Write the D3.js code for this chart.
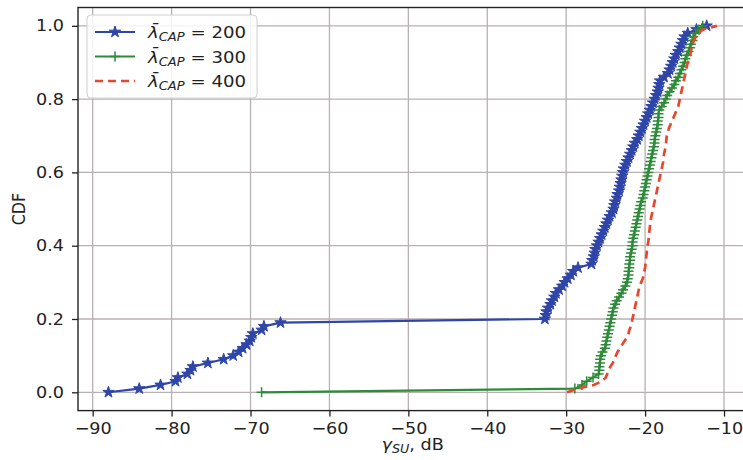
<!DOCTYPE html>
<html>
<head>
<meta charset="utf-8">
<script src="https://cdn.jsdelivr.net/npm/d3@7"></script>
<style>
  html, body { margin: 0; padding: 0; background: #fff; }
  svg { display: block; }
  text { font-family: "DejaVu Sans", sans-serif; fill: #222; }
</style>
</head>
<body>
<svg id="chart" width="743" height="460"></svg>
<script>
// Sorted samples of gamma_SU (dB) for each lambda_CAP setting; the CDF is their empirical distribution.
const samples200 = [
  -88.0, -84.1, -81.4, -79.5, -79.2, -78.0, -77.6, -77.3, -75.4, -73.4,
  -72.2, -71.5, -71.0, -70.5, -70.1, -69.9, -69.7, -68.6, -68.3, -66.2,
  -32.7, -32.6, -32.5, -32.3, -32.0, -31.8, -31.5, -31.3, -30.9, -30.5,
  -30.2, -29.8, -29.4, -29.1, -28.5, -26.8, -26.7, -26.5, -26.4, -26.3,
  -26.1, -25.9, -25.7, -25.5, -25.3, -25.1, -24.9, -24.7, -24.5, -24.2,
  -24.0, -23.9, -23.8, -23.6, -23.5, -23.3, -23.2, -23.1, -23.0, -22.9,
  -22.8, -22.7, -22.5, -22.3, -22.1, -21.9, -21.7, -21.5, -21.3, -21.0,
  -20.8, -20.6, -20.4, -20.2, -20.0, -19.8, -19.6, -19.4, -19.2, -19.0,
  -18.8, -18.6, -18.4, -18.3, -18.2, -18.1, -17.6, -17.1, -16.9, -16.7,
  -16.5, -16.3, -16.1, -15.8, -15.6, -15.4, -15.2, -15.0, -14.6, -13.5,
  -12.2
];
const samples300 = [
  -68.6, -28.9, -28.0, -27.4, -26.6, -25.9, -25.8, -25.8, -25.7, -25.7,
  -25.6, -25.4, -25.1, -25.0, -24.9, -24.8, -24.7, -24.6, -24.5, -24.4,
  -24.3, -24.2, -24.1, -24.0, -23.8, -23.6, -23.3, -23.0, -22.8, -22.5,
  -22.3, -22.2, -22.1, -22.1, -22.0, -22.0, -21.9, -21.9, -21.8, -21.7,
  -21.6, -21.6, -21.5, -21.4, -21.3, -21.2, -21.1, -21.0, -20.9, -20.8,
  -20.7, -20.6, -20.5, -20.3, -20.2, -20.1, -20.0, -19.9, -19.8, -19.7,
  -19.6, -19.5, -19.4, -19.3, -19.2, -19.1, -19.0, -18.9, -18.8, -18.8,
  -18.7, -18.6, -18.5, -18.4, -18.4, -18.3, -18.3, -18.2, -17.9, -17.6,
  -17.4, -17.2, -16.9, -16.6, -16.3, -16.1, -15.8, -15.6, -15.4, -15.2,
  -15.0, -14.9, -14.7, -14.5, -14.3, -14.2, -14.0, -13.9, -13.6, -13.2,
  -12.7
];
const samples400 = [
  -29.9, -28.5, -26.5, -25.5, -25.0, -24.8, -24.6, -24.4, -24.1, -23.9,
  -23.7, -23.5, -23.2, -22.9, -22.6, -22.3, -22.1, -22.0, -21.8, -21.7,
  -21.6, -21.5, -21.4, -21.3, -21.2, -21.1, -21.0, -20.9, -20.8, -20.7,
  -20.5, -20.3, -20.2, -20.1, -20.0, -19.95, -19.9, -19.85, -19.8, -19.75,
  -19.7, -19.6, -19.55, -19.5, -19.45, -19.4, -19.35, -19.3, -19.2, -19.1,
  -19.0, -18.9, -18.8, -18.7, -18.6, -18.5, -18.4, -18.3, -18.2, -18.1,
  -18.0, -17.9, -17.8, -17.7, -17.65, -17.6, -17.5, -17.4, -17.35, -17.3,
  -17.25, -17.1, -17.0, -16.8, -16.6, -16.4, -16.2, -16.0, -15.8, -15.7,
  -15.6, -15.5, -15.4, -15.3, -15.2, -15.1, -15.0, -14.9, -14.8, -14.7,
  -14.6, -14.5, -14.3, -14.2, -14.1, -14.0, -13.8, -13.6, -13.2, -12.7,
  -10.9
];

const seriesLabels = ["200", "300", "400"];
const xTickValues = [-90, -80, -70, -60, -50, -40, -30, -20, -10];
const yTickValues = [0.0, 0.2, 0.4, 0.6, 0.8, 1.0];

// Empirical CDF: k-th sorted sample sits at k/(n-1)
function ecdf(xs) {
  const s = xs.slice().sort((a, b) => a - b);
  return s.map((v, k) => ({ x: v, y: k / (s.length - 1) }));
}

const series = [
  { label: seriesLabels[0], pts: ecdf(samples200), color: "#2f45a8", marker: "star", dash: null, width: 2.2 },
  { label: seriesLabels[1], pts: ecdf(samples300), color: "#2e8b3a", marker: "plus", dash: null, width: 2.2 },
  { label: seriesLabels[2], pts: ecdf(samples400), color: "#e8472e", marker: null, dash: "8,5", width: 2.7 }
];

const svg = d3.select("#chart");
const x = d3.scaleLinear().domain([-91.86, -7.05]).range([78.0, 747.3]);
const y = d3.scaleLinear().domain([-0.05, 1.05]).range([410.6, 7.5]);

const [x0, x1] = x.range();
const [yb, yt] = y.range();
const FS = 16;
const STRETCH = 1.1;

// grid
const grid = svg.append("g");
grid.selectAll("line.gx").data(xTickValues).join("line")
  .attr("x1", d => x(d)).attr("x2", d => x(d))
  .attr("y1", yt).attr("y2", yb)
  .attr("stroke", "#b9b1b1").attr("stroke-width", 1.3);
grid.selectAll("line.gy").data(yTickValues).join("line")
  .attr("x1", x0).attr("x2", x1)
  .attr("y1", d => y(d)).attr("y2", d => y(d))
  .attr("stroke", "#b9b1b1").attr("stroke-width", 1.3);

// curves
const line = d3.line().x(d => x(d.x)).y(d => y(d.y));
const starPath = d3.symbol().type(d3.symbolStar).size(40)();
const plusPath = "M-5,0H5M0,-5V5";

series.forEach(s => {
  const g = svg.append("g");
  g.append("path").datum(s.pts)
    .attr("d", line)
    .attr("fill", "none")
    .attr("stroke", s.color)
    .attr("stroke-width", s.width)
    .attr("stroke-dasharray", s.dash)
    .attr("stroke-linejoin", "round");
  if (s.marker === "star") {
    g.selectAll("path.m").data(s.pts).join("path")
      .attr("class", "m")
      .attr("d", starPath)
      .attr("transform", d => `translate(${x(d.x)},${y(d.y)})`)
      .attr("fill", s.color).attr("stroke", s.color).attr("stroke-width", 1);
  } else if (s.marker === "plus") {
    g.selectAll("path.m").data(s.pts).join("path")
      .attr("class", "m")
      .attr("d", plusPath)
      .attr("transform", d => `translate(${x(d.x)},${y(d.y)})`)
      .attr("fill", "none").attr("stroke", s.color).attr("stroke-width", 1.5);
  }
});

// axes
const fmtX = d3.format("d");
const fmtY = d3.format(".1f");
const xAxis = svg.append("g").attr("transform", `translate(0,${yb})`)
  .call(d3.axisBottom(x).tickValues(xTickValues).tickFormat(fmtX).tickSize(6).tickPadding(6));
const yAxis = svg.append("g").attr("transform", `translate(${x0},0)`)
  .call(d3.axisLeft(y).tickValues(yTickValues).tickFormat(fmtY).tickSize(6).tickPadding(8));
[xAxis, yAxis].forEach(a => {
  a.select(".domain").remove();
  a.selectAll(".tick line").attr("stroke", "#222").attr("stroke-width", 1.3);
  a.selectAll(".tick text").attr("font-size", FS).attr("fill", "#222")
    .attr("font-family", "DejaVu Sans, sans-serif");
});
xAxis.selectAll(".tick text").attr("transform", `scale(${STRETCH},1)`);
yAxis.selectAll(".tick text")
  .attr("x", -14 / STRETCH)
  .attr("transform", `scale(${STRETCH},1)`);

// frame
svg.append("rect")
  .attr("x", x0).attr("y", yt)
  .attr("width", x1 - x0).attr("height", yb - yt)
  .attr("fill", "none").attr("stroke", "#222").attr("stroke-width", 1.4);

// axis titles
const xt = svg.append("text")
  .attr("transform", `translate(${(x0 + x1) / 2},450) scale(${STRETCH},1)`)
  .attr("text-anchor", "middle").attr("font-size", FS);
xt.append("tspan").attr("font-style", "italic").text("γ");
xt.append("tspan").attr("font-style", "italic").attr("font-size", FS * 0.72).attr("dy", 3).text("SU");
xt.append("tspan").attr("dy", -3).text(", dB");

svg.append("text")
  .attr("transform", `translate(25,${(yt + yb) / 2}) rotate(-90) scale(1,${STRETCH})`)
  .attr("text-anchor", "middle").attr("font-size", FS).text("CDF");

// legend
const lg = svg.append("g");
lg.append("rect")
  .attr("x", 87).attr("y", 15).attr("width", 170).attr("height", 83)
  .attr("rx", 4).attr("fill", "#fff").attr("fill-opacity", 0.85)
  .attr("stroke", "#d0d0d0").attr("stroke-width", 1);
const rowY = [32, 56.5, 81];
const LFS = 16.5;
series.forEach((s, k) => {
  const ry = rowY[k];
  lg.append("line")
    .attr("x1", 95).attr("x2", 135).attr("y1", ry).attr("y2", ry)
    .attr("stroke", s.color).attr("stroke-width", s.width)
    .attr("stroke-dasharray", s.dash);
  if (s.marker === "star") {
    lg.append("path").attr("d", starPath).attr("transform", `translate(115,${ry})`)
      .attr("fill", s.color).attr("stroke", s.color).attr("stroke-width", 1);
  } else if (s.marker === "plus") {
    lg.append("path").attr("d", plusPath).attr("transform", `translate(115,${ry})`)
      .attr("fill", "none").attr("stroke", s.color).attr("stroke-width", 1.5);
  }
  const t = lg.append("text")
    .attr("transform", `translate(148,${ry + 6}) scale(${STRETCH},1)`)
    .attr("font-size", LFS);
  t.append("tspan").attr("font-style", "italic").text("λ\u0304");
  t.append("tspan").attr("font-style", "italic").attr("font-size", LFS * 0.72).attr("dy", 3).text("CAP");
  t.append("tspan").attr("dy", -3).text(" = " + s.label);
});
</script>
</body>
</html>
